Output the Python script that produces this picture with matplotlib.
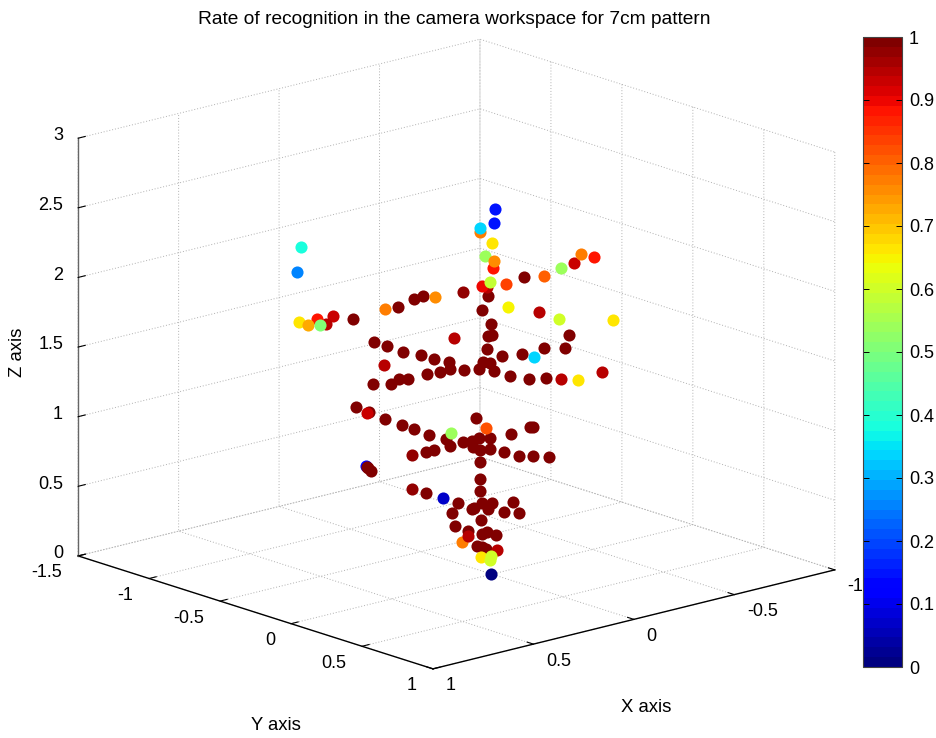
import matplotlib
matplotlib.use('Agg')
from matplotlib import pyplot as plt
from matplotlib import cm
from matplotlib.colors import Normalize
import numpy as np

plt.rcParams['font.family'] = ['Liberation Sans', 'DejaVu Sans']

x_ticks = [-1, -0.5, 0, 0.5, 1]
x_tick_labels = ['-1', '-0.5', '0', '0.5', '1']
y_ticks = [-1.5, -1, -0.5, 0, 0.5, 1]
y_tick_labels = ['-1.5', '-1', '-0.5', '0', '0.5', '1']
z_ticks = [0, 0.5, 1, 1.5, 2, 2.5, 3]
z_tick_labels = ['0', '0.5', '1', '1.5', '2', '2.5', '3']
cbar_ticks = [0, 0.1, 0.2, 0.3, 0.4, 0.5, 0.6, 0.7, 0.8, 0.9, 1]
cbar_tick_labels = ['0', '0.1', '0.2', '0.3', '0.4', '0.5', '0.6', '0.7', '0.8', '0.9', '1']

# drawn in this order, later points sit on top
xs = [0.353, 0.351,
      0.390, 0.264, 0.219, 0.194, 0.331, 0.295, 0.250, 0.199, 0.163, 0.121,
      -0.090, 0.011, 0.028, 0.003, 0.000, 0.011, -0.216, 0.014, -0.146, -0.205,
      -0.028, -0.084, 0.025, 0.006, 0.118, 0.079, 0.036, -0.006, 0.146, 0.182,
      0.236, 0.261, 0.283, 0.334, -0.050, -0.104, -0.151, 0.381, 0.345, 0.300,
      0.252, 0.219, 0.177, 0.045, 0.129, 0.118, 0.081, 0.056, 0.036, 0.006,
      0.053, 0.034, 0.006, 0.163, 0.185, 0.034, 0.034, -0.107, -0.115, -0.053,
      -0.034, -0.076, -0.115, -0.160, 0.348, 0.339, 0.034, 0.185, 0.095, 0.112,
      0.028, 0.056, 0.050, 0.000, 0.011, -0.059, -0.034, -0.076, 0.031, 0.104,
      0.067, 0.028, 0.014, -0.011, 0.042, 0.028, 0.017,
      0.224, 0.224, 0.081, 0.303, -0.194, -0.309, -0.132, 0.107, 0.351, -0.014,
      0.084, 0.067, 0.014, 0.028, -0.230, 0.446, 0.466, 0.491, -0.003, -0.286,
      -0.039, -0.146, 0.017, 0.300, 0.160, -0.250, 0.034, 0.020, -0.006, 0.541,
      0.516, 0.482, 0.000, 0.006, -0.045, -0.188, -0.339, -0.194, 0.115, -0.118,
      -0.241, 0.034, 0.536, 0.547, -0.008, -0.006, 0.137, 0.031, 0.003, 0.006, 0.003]
ys = [-0.387, -0.384,
      -0.427, -0.289, -0.240, -0.212, -0.362, -0.323, -0.273, -0.218, -0.178, -0.132,
      0.098, -0.012, -0.031, -0.003, 0.000, -0.012, 0.237, -0.015, 0.160, 0.224,
      0.031, 0.092, -0.028, -0.006, -0.129, -0.086, -0.040, 0.006, -0.160, -0.200,
      -0.258, -0.286, -0.310, -0.366, 0.055, 0.114, 0.166, -0.418, -0.378, -0.329,
      -0.276, -0.240, -0.194, -0.049, -0.141, -0.129, -0.089, -0.061, -0.040, -0.006,
      -0.058, -0.037, -0.006, -0.178, -0.203, -0.037, -0.037, 0.117, 0.126, 0.058,
      0.037, 0.083, 0.126, 0.175, -0.381, -0.372, -0.037, -0.203, -0.104, -0.123,
      -0.031, -0.061, -0.055, 0.000, -0.012, 0.065, 0.037, 0.083, -0.034, -0.114,
      -0.074, -0.031, -0.015, 0.012, -0.046, -0.031, -0.018,
      -0.246, -0.246, -0.089, -0.332, 0.212, 0.338, 0.144, -0.117, -0.384, 0.015,
      -0.092, -0.074, -0.015, -0.031, 0.252, -0.488, -0.510, -0.538, 0.003, 0.313,
      0.043, 0.160, -0.018, -0.329, -0.175, 0.273, -0.037, -0.022, 0.006, -0.593,
      -0.565, -0.528, 0.000, -0.006, 0.049, 0.206, 0.372, 0.212, -0.126, 0.129,
      0.264, -0.037, -0.587, -0.599, 0.009, 0.006, -0.151, -0.034, -0.003, -0.006, -0.003]
zs = [0.777, 0.770,
      1.833, 1.919, 1.976, 1.998, 1.668, 1.639, 1.596, 1.574, 1.546, 1.524,
      2.134, 1.998, 1.897, 1.797, 1.718, 1.711, 1.718, 1.617, 1.625, 1.625,
      1.567, 1.582, 1.524, 1.517, 1.474, 1.467, 1.474, 1.459, 1.452, 1.438,
      1.402, 1.402, 1.366, 1.366, 1.424, 1.402, 1.409, 1.201, 1.165, 1.115,
      1.072, 1.043, 1.000, 1.122, 0.971, 0.921, 0.950, 0.957, 0.978, 0.978,
      0.914, 0.892, 0.900, 0.892, 0.878, 0.806, 0.684, 1.057, 1.057, 1.007,
      0.878, 0.849, 0.849, 0.842, 0.763, 0.742, 0.598, 0.584, 0.512, 0.440,
      0.512, 0.469, 0.476, 0.512, 0.469, 0.519, 0.447, 0.440, 0.390, 0.347,
      0.311, 0.289, 0.304, 0.282, 0.203, 0.196, 0.182,
      0.856, 0.612, 2.027, 1.503, 1.402, 1.452, 1.883, 1.696, 1.158, 0.174,
      0.232, 0.275, 2.063, 2.070, 2.235, 1.854, 1.797, 1.833, 2.199, 2.278,
      2.084, 2.142, 1.050, 1.905, 1.991, 2.299, 2.457, 2.285, 2.249, 1.811,
      1.790, 1.790, 2.378, 2.098, 1.919, 1.833, 1.826, 2.199, 1.014, 1.560,
      1.395, 2.486, 2.350, 2.170, 2.623, 2.522, 0.548, 0.124, 0.131, 0.103, 0.002]
rates = [0.12, 1,
         1, 1, 1, 1, 1, 1, 1, 1, 1, 1,
         1, 1, 1, 1, 1, 1, 1, 1, 1, 1,
         1, 1, 1, 1, 1, 1, 1, 1, 1, 1,
         1, 1, 1, 1, 1, 1, 1, 1, 1, 1,
         1, 1, 1, 1, 1, 1, 1, 1, 1, 1,
         1, 1, 1, 1, 1, 1, 1, 1, 1, 1,
         1, 1, 1, 1, 1, 1, 1, 1, 1, 1,
         1, 1, 1, 1, 1, 1, 1, 1, 1, 1,
         1, 1, 1, 1, 1, 1, 1,
         0.97, 0.97, 0.97, 0.95, 0.95, 0.95, 0.95, 0.94, 0.93, 0.95,
         0.78, 0.95, 0.95, 0.90, 0.93, 0.93, 0.95, 0.88, 0.88, 0.88,
         0.84, 0.80, 0.82, 0.78, 0.76, 0.78, 0.78, 0.54, 0.76, 0.66,
         0.72, 0.50, 0.66, 0.59, 0.65, 0.60, 0.67, 0.54, 0.54, 0.33,
         0.67, 0.33, 0.38, 0.25, 0.15, 0.15, 0.07, 0.66, 0.60, 0.60, 0.01]

W, H = 936, 738
jet = matplotlib.colormaps['jet'].resampled(64)
norm = Normalize(0, 1)

fig = plt.figure(figsize=(W/100, H/100), dpi=100)
ax = fig.add_axes([-21.5/W, 5/H, 1, 1], projection='3d', computed_zorder=False)
ax.set_proj_type('ortho')
ax.view_init(elev=16.26, azim=48.66)
ax.set_box_aspect((535, 537, 435), zoom=1.15)
ax.patch.set_alpha(0)

for x, y, z, r in zip(xs, ys, zs, rates):
    ax.scatter([x], [y], [z], c=[r], cmap=jet, norm=norm, s=76, depthshade=False,
               linewidths=0)

ax.set_xlim(-1, 1)
ax.set_ylim(-1.5, 1)
ax.set_zlim(0, 3)
ax.set_xticks(x_ticks)
ax.set_yticks(y_ticks)
ax.set_zticks(z_ticks)

for axis, line_color in [(ax.xaxis, 'black'), (ax.yaxis, 'black'), (ax.zaxis, '#666666')]:
    axis.set_pane_color((1, 1, 1, 0))
    axis.pane.set_edgecolor((1, 1, 1, 0))
    axis.line.set_color(line_color)
    axis.line.set_linewidth(1.0)
    axis._axinfo['grid'].update(color='#b0b0b0', linewidth=0.7, linestyle=(0, (1, 2)))
    axis._axinfo['tick'].update(inward_factor=0.0, outward_factor=0.22)
    for tick in axis.get_major_ticks():
        tick.label1.set_visible(False)
        tick.label2.set_visible(False)
    axis.set_major_formatter(matplotlib.ticker.NullFormatter())

# tick labels as text, matlab hangs them off the ticks differently than mplot3d
for v, s in zip(x_ticks, x_tick_labels):
    ax.text(v, 1.09, -0.093, s, ha='left', va='center', fontsize=13)
for v, s in zip(y_ticks, y_tick_labels):
    ax.text(1.08, v, -0.094, s, ha='right', va='center', fontsize=13)
for v, s in zip(z_ticks, z_tick_labels):
    ax.text(1.075, -1.5, v + 0.043, s, ha='right', va='center', fontsize=13)

fig.text(454.5/W, 1-19/H, 'Rate of recognition in the camera workspace for 7cm pattern',
         ha='center', va='center', fontsize=13.8)
fig.text(646/W, 1-707/H, 'X axis', ha='center', va='center', fontsize=13.3)
fig.text(276/W, 1-725/H, 'Y axis', ha='center', va='center', fontsize=13.3)
fig.text(17/W, 1-352/H, 'Z axis', ha='center', va='center', fontsize=13.3, rotation=90)

cax = fig.add_axes([863/W, 1-667/H, 39/W, 630/H])
cbar = fig.colorbar(cm.ScalarMappable(norm=norm, cmap=jet), cax=cax, ticks=cbar_ticks)
cbar.ax.set_yticklabels(cbar_tick_labels)
cbar.ax.tick_params(direction='in', left=True, right=True, length=4.5, width=0.7,
                    labelsize=13, pad=5)
cbar.outline.set_edgecolor('#444444')
cbar.outline.set_linewidth(0.8)

fig.savefig('out.png', dpi=100)
